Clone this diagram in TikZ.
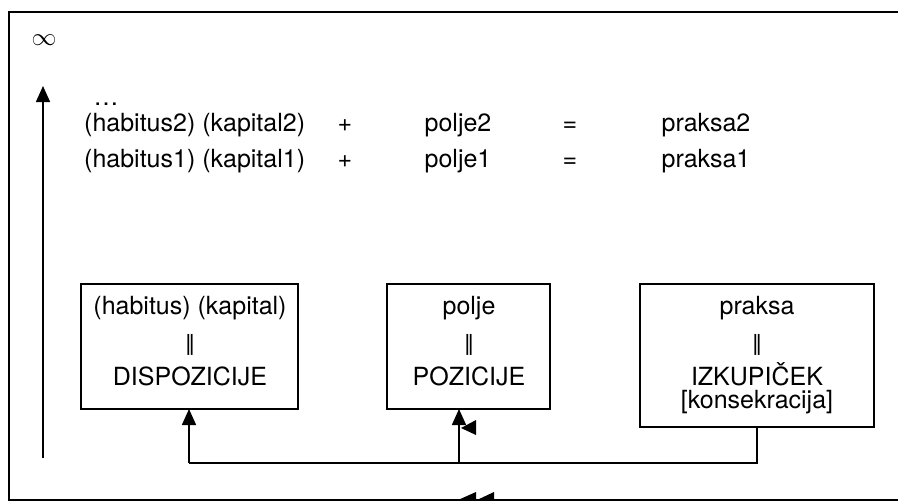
\documentclass[tikz,border=0pt]{standalone}
\usepackage{fontspec}
\setmainfont{TeX Gyre Heros}
\newfontfamily\dvfont{DejaVu Sans}
\usetikzlibrary{arrows.meta}
\begin{document}
\begin{tikzpicture}[x=1pt,y=-1pt,
  txt/.style={font=\fontsize{25}{29}\selectfont, inner sep=0pt, anchor=base},
  bar/.style={font=\dvfont\fontsize{21}{23}\selectfont, inner sep=0pt, anchor=center},
  box/.style={draw, line width=1.6pt},
  conn/.style={line width=1.6pt, -{Triangle[width=14pt,length=16pt]}},
  plain/.style={line width=1.6pt}]
\useasboundingbox (0,0) rectangle (898,501);
% frame (open on the right)
\draw[line width=2pt] (900,12) -- (9,12) -- (9,500) -- (900,500);
% infinity and upward arrow
\node[inner sep=0pt] (inf) at (44,40) {\fontsize{25}{27}\selectfont $\infty$};
\coordinate (vb) at (43,458);
\coordinate (vt) at (43,86);
\draw[conn] (vb) -- (vt);
% rows
\node[txt] (dots) at (106,105) {\dots};
\node[txt, anchor=base west] (r2a) at (84,131) {(habitus2) (kapital2)};
\node[txt] (r2p) at (345,131) {+};
\node[txt] (r2b) at (458,131) {polje2};
\node[txt] (r2e) at (570,131) {=};
\node[txt] (r2c) at (706,131) {praksa2};
\node[txt, anchor=base west] (r1a) at (84,167) {(habitus1) (kapital1)};
\node[txt] (r1p) at (345,167) {+};
\node[txt] (r1b) at (458,167) {polje1};
\node[txt] (r1e) at (570,167) {=};
\node[txt] (r1c) at (706,167) {praksa1};
% boxes
\draw[box] (81,284) rectangle (298,409);
\draw[box] (387,284) rectangle (550,409);
\draw[box] (640,284) rectangle (874,427);
\coordinate (b1) at (189,409);
\coordinate (b2) at (459,409);
\coordinate (b3) at (757,427);
\node[txt] (t11) at (190,314) {(habitus) (kapital)};
\node[bar] (t12) at (190,345) {‖};
\node[txt] (t13) at (190,385) {DISPOZICIJE};
\node[txt] (t21) at (469,314) {polje};
\node[bar] (t22) at (469,345) {‖};
\node[txt] (t23) at (469,385) {POZICIJE};
\node[txt] (t31) at (757,314) {praksa};
\node[bar] (t32) at (757,345) {‖};
\node[txt] (t33) at (757,385) {IZKUPIČEK};
\node[txt] (t34) at (757,408) {[konsekracija]};
% connectors
\coordinate (c3) at (757,463);
\coordinate (c2) at (459,463);
\coordinate (c1) at (189,463);
\draw[plain] (b3) -- (c3) -- (c1);
\draw[conn] (c1) -- (b1);
\draw[conn] (c2) -- (b2);
% stray arrowhead marks
\fill (461,428) -- (476,420) -- (476,435) -- cycle;
\fill (458,500) -- (476,500) -- (476,492) -- cycle;
\fill (477,500) -- (494,500) -- (494,492) -- cycle;
\end{tikzpicture}
\end{document}
